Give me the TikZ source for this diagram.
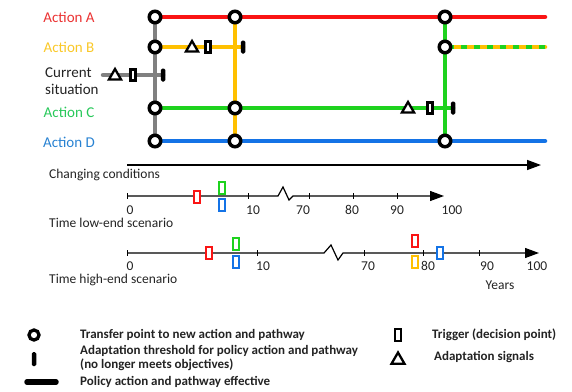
\documentclass[tikz,border=0pt]{standalone}
\usepackage{fontspec}
\setmainfont{Carlito}
\usetikzlibrary{arrows.meta,shapes.geometric,positioning}
\pgfdeclarelayer{background}
\pgfsetlayers{background,main}
\definecolor{actA}{RGB}{250,20,20}
\definecolor{actB}{RGB}{255,192,0}
\definecolor{actC}{RGB}{30,210,30}
\definecolor{actD}{RGB}{20,115,230}
\definecolor{cur}{RGB}{128,128,128}
\definecolor{txtA}{RGB}{235,50,50}
\definecolor{txtB}{RGB}{250,200,40}
\definecolor{txtC}{RGB}{40,200,90}
\definecolor{txtD}{RGB}{40,130,210}
\definecolor{ink}{RGB}{35,35,35}
\tikzset{
  transfer/.style={circle,draw=black,line width=3.5pt,fill=white,minimum size=11.5pt,inner sep=0pt},
  trigger/.style={rectangle,draw=black,line width=2.3pt,fill=white,minimum width=5pt,minimum height=11pt,inner sep=0pt},
  signal/.style={regular polygon,regular polygon sides=3,draw=black,line width=2.3pt,fill=white,minimum size=14pt,inner sep=0pt},
  threshold/.style={rectangle,fill=black,minimum width=4.5pt,minimum height=13pt,inner sep=0pt,rounded corners=1.5pt},
  timebox/.style={rectangle,draw=#1,line width=2pt,fill=white,minimum width=6pt,minimum height=12pt,inner sep=0pt},
  route/.style={line width=4.5pt,line cap=round},
  axis/.style={line width=1.2pt,-{Triangle[length=14pt,width=10pt]}},
  actlab/.style={font=\fontsize{15}{17}\selectfont,inner sep=0pt},
  timelab/.style={font=\fontsize{13.5}{15}\selectfont,text=ink,inner sep=0pt},
  leglab/.style={font=\bfseries\fontsize{13}{13.5}\selectfont,text=ink,inner sep=0pt,anchor=west,align=left},
}
\begin{document}
\begin{tikzpicture}[x=1pt,y=-1pt]
\useasboundingbox (0,0) rectangle (572,391);
% actions
\node[actlab,text=txtA](labA)at(69,17){Action A};
\node[actlab,text=txtB](labB)at(69,47){Action B};
\node[actlab,text=ink,align=left,anchor=west](labS)at(45,81){Current\\situation};
\node[actlab,text=txtC](labC)at(69,112){Action C};
\node[actlab,text=txtD](labD)at(69,142){Action D};
% transfer points
\node[transfer](a1)at(155,17){};
\node[transfer](b1)at(155,47){};
\node[transfer](c1)at(155,108){};
\node[transfer](d1)at(155,141){};
\node[transfer](a2)at(235,17){};
\node[transfer](c2)at(235,108){};
\node[transfer](d2)at(235,141){};
\node[transfer](a3)at(445,17){};
\node[transfer](b3)at(445,47){};
\node[transfer](d3)at(445,141){};
\coordinate(aend)at(545,17);
\coordinate(bend)at(545,47);
\coordinate(dend)at(545,141);
\coordinate(s0)at(103,75);
% signals, triggers, thresholds
\node[signal](sigS)at(115,76){};
\node[trigger](trgS)at(133,75){};
\node[threshold](thrS)at(163,75){};
\node[signal](sigB)at(192,48){};
\node[trigger](trgB)at(208,47){};
\node[threshold](thrB)at(243,47){};
\node[signal](sigC)at(408,109){};
\node[trigger](trgC)at(430,108){};
\node[threshold](thrC)at(453,108){};
\begin{pgfonlayer}{background}
\draw[route,cur](a1.center)--(d1.center);
\draw[route,actB](a2.center)--(d2.center);
\draw[route,actC](a3.center)--(d3.center);
\draw[route,cur](s0)--(thrS.center);
\draw[route,actA](a1.center)--(aend);
\draw[route,actB](b1.center)--(thrB.center);
\draw[route,actB](b3.center)--(bend);
\draw[line width=4.5pt,actC,dash pattern=on 6pt off 7pt,dash phase=-3pt](b3.center)--(bend);
\draw[route,actC](c1.center)--(thrC.center);
\draw[route,actD](d1.center)--(dend);
\end{pgfonlayer}
% changing conditions
\coordinate(cc0)at(127,165);
\coordinate(cc1)at(541,165);
\draw[axis,line width=1.4pt](cc0)--(cc1);
\node[timelab,anchor=west](ccl)at(49,175){Changing conditions};
% low-end scenario
\coordinate(lo0)at(127,196);
\coordinate(lobrk)at(278,196);
\coordinate(loend)at(444,196);
\draw[axis](lo0)--(lobrk)--++(5,-9)--++(6,13)--++(4,-4)--(loend);
\foreach \x in {127,248,309,353,397}
  \draw[line width=1pt](\x,193)--(\x,199);
\foreach \x/\t in {130/0,253/10,303/70,352/80,397/90,452/100}
  \node[timelab](lol\t)at(\x,210){\t};
\node[timelab,anchor=west](lol)at(49,223){Time low-end scenario};
\node[timebox=actA](loA)at(197,197){};
\node[timebox=actC](loC)at(222,188){};
\node[timebox=actD](loD)at(222,205){};
% high-end scenario
\coordinate(hi0)at(127,253);
\coordinate(hibrk)at(324,253);
\coordinate(hiend)at(539,253);
\draw[axis](hi0)--(hibrk)--++(7,-8)--++(7,15)--++(5,-7)--(hiend);
\foreach \x in {127,257,364,423,479}
  \draw[line width=1pt](\x,250)--(\x,256);
\foreach \x/\t in {130/0,263/10,368/70,428/80,487/90,537/100}
  \node[timelab](hil\t)at(\x,266){\t};
\node[timelab](years)at(500,285){Years};
\node[timelab,anchor=west](hil)at(49,280){Time high-end scenario};
\node[timebox=actA](hiA)at(209,253){};
\node[timebox=actC](hiC)at(236,244){};
\node[timebox=actD](hiD)at(236,262){};
\node[timebox=actA](hiA2)at(415,241){};
\node[timebox=actB](hiB2)at(415,262){};
\node[timebox=actD](hiD2)at(440,253){};
% legend
\node[transfer,minimum size=10pt,line width=3.3pt](legT)at(34,335){};
\node[threshold,minimum width=4.5pt,minimum height=14pt](legH)at(34,359){};
\coordinate(legE0)at(27,382);
\coordinate(legE1)at(56,382);
\draw[line width=5.5pt,line cap=round](legE0)--(legE1);
\node[leglab](legTl)at(80,335){Transfer point to new action and pathway};
\node[leglab](legHl)at(80,358){Adaptation threshold for policy action and pathway\\(no longer meets objectives)};
\node[leglab](legEl)at(80,382){Policy action and pathway effective};
\node[trigger,minimum width=5.5pt,minimum height=12pt](legR)at(398,335){};
\node[signal,minimum size=15pt](legS)at(398,360){};
\node[leglab](legRl)at(432,335){Trigger (decision point)};
\node[leglab](legSl)at(434,357){Adaptation signals};
\end{tikzpicture}
\end{document}
